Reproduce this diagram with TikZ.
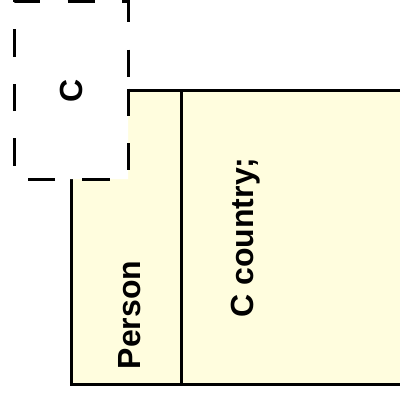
\documentclass[tikz,border=0pt]{standalone}
\usepackage{fontspec}
\setmainfont{Liberation Sans}
\usetikzlibrary{positioning}
\definecolor{classfill}{HTML}{FFFDDE}

\begin{document}
\begin{tikzpicture}[
      x=0.5pt, y=-0.5pt,
      every node/.style={font=\fontsize{16}{19}\selectfont\bfseries},
      compartment/.style={draw, line width=1.5pt, fill=classfill, minimum height=147pt},
      tparam/.style={draw, line width=1.5pt, dash pattern=on 13.6pt off 13.65pt, fill=white},
      vtext/.style={rotate=90, anchor=base, inner sep=0pt},
    ]
    \useasboundingbox (0,0) rectangle (400,393);
    \clip (0,0) rectangle (400,393);

    % Class compartments
    \node[compartment, minimum width=55pt] (namebox) at (126,237) {};
    \node[compartment, minimum width=120pt] (attrbox) at (301,237) {};

    % Texts
    \node[vtext] (cname) at (140,315) {Person};
    \node[vtext] (cattr) at (253,237.5) {C country;};

    % Template parameter box, over the class corner
    \coordinate (tne) at (128,1);
    \coordinate (tsw) at (14,179);
    \coordinate (tjoin) at (tne |- namebox.north);
    \draw[tparam] (tjoin) -- (tne |- tsw) -- (tsw) -- (tsw |- tne) -- (tne) -- cycle;
    \node[rotate=90] (tname) at (71,91) {C};
  \end{tikzpicture}
\end{document}
